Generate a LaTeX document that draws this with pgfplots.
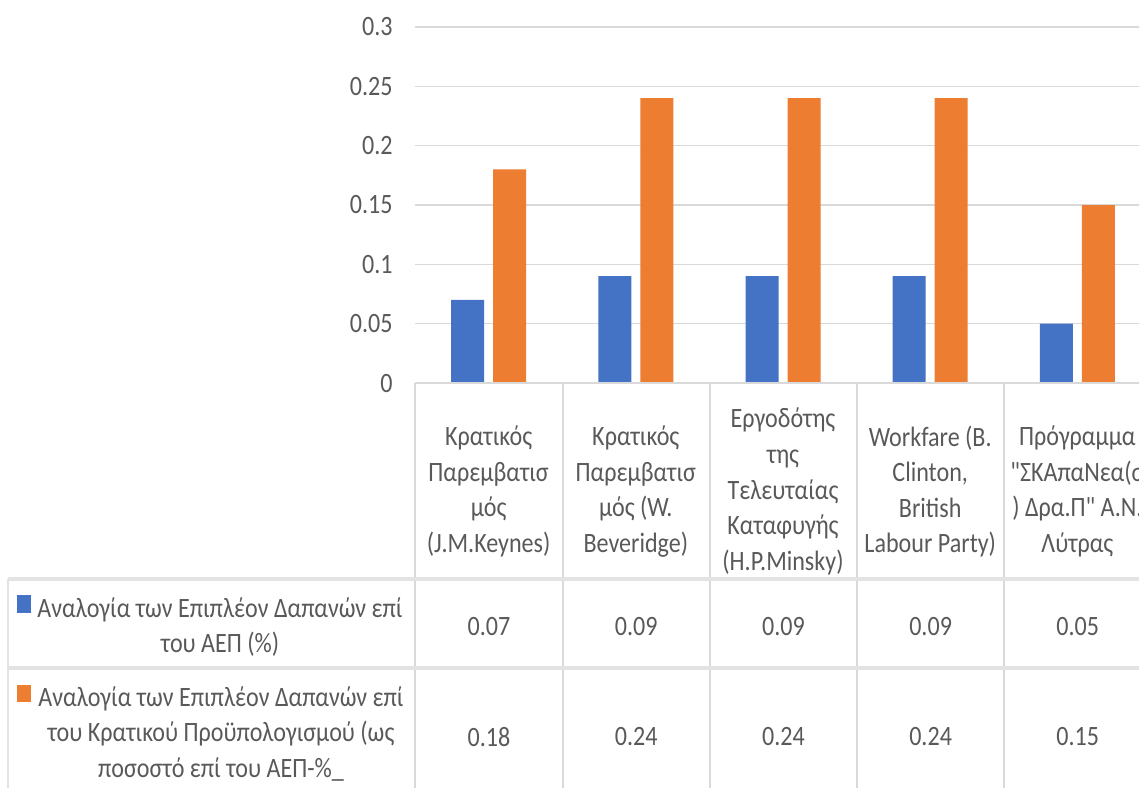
\documentclass[border=0pt]{standalone}
\usepackage{pgfplots}
\usepackage{pgfplotstable}
\pgfplotsset{compat=1.18}
\usepackage{fontspec}
\setmainfont{Carlito}[FakeStretch=0.86]
\newfontfamily\gf{Carlito}[FakeStretch=0.86]
\definecolor{bblue}{HTML}{4472C4}
\definecolor{borange}{HTML}{ED7D31}
\definecolor{gridgrey}{HTML}{D9D9D9}
\definecolor{tabgrey}{HTML}{E3E3E3}
\definecolor{txt}{HTML}{595959}
\newcommand\cf{\gf\fontsize{14}{17.8}\selectfont}

\pgfplotstableread{
x a b
0 0.07 0.18
1 0.09 0.24
2 0.09 0.24
3 0.09 0.24
4 0.05 0.15
}\data

\begin{document}
\begin{tikzpicture}
\useasboundingbox (0,0) rectangle (569.5pt,-394pt);
\clip (0,0) rectangle (569.5pt,-394pt);
\begin{axis}[
  at={(207.5pt,-191.5pt)}, anchor=south west,
  scale only axis, width=368pt, height=178pt,
  xmin=-0.5, xmax=4.5, ymin=0, ymax=0.3,
  ybar=4.5pt, bar width=16.5pt,
  ytick={0,0.05,0.1,0.15,0.2,0.25,0.3},
  yticklabels={0,0.05,0.1,0.15,0.2,0.25,0.3},
  xtick={0,1,2,3,4},
  xticklabels={
    {Κρατικός\\Παρεμβατισ\\μός\\(J.M.Keynes)},
    {Κρατικός\\Παρεμβατισ\\μός (W.\\Beveridge)},
    {Εργοδότης\\της\\Τελευταίας\\Καταφυγής\\(H.P.Minsky)},
    {Workfare (B.\\Clinton,\\British\\Labour Party)},
    {Πρόγραμμα\\"ΣΚΑπαΝεα(σ\\) Δρα.Π" Α.Ν.\\Λύτρας}},
  xticklabel style={anchor=center, yshift=-50pt, align=center, font=\cf, text=txt},
  yticklabel style={anchor=east, inner sep=0pt, xshift=-11pt, font=\cf, text=txt},
  tick style={draw=none},
  axis line style={draw=none},
  ymajorgrids, grid style={gridgrey, line width=0.75pt},
]
\addplot[fill=bblue, draw=none] table[x=x, y=a] {\data};
\addplot[fill=borange, draw=none] table[x=x, y=b] {\data};
\end{axis}
\begin{scope}[x=0.5pt, y=-0.5pt]
  \draw[gridgrey, line width=0.9pt] (415,383) -- (1139,383);
  \foreach \xx in {415,563,710,857,1004} \draw[gridgrey, line width=0.9pt] (\xx,383) -- (\xx,788);
  \draw[tabgrey, line width=1.6pt] (8,579) -- (1139,579);
  \draw[tabgrey, line width=1.6pt] (8,668) -- (1139,668);
  \draw[tabgrey, line width=1.2pt] (8,579) -- (8,788);
  \fill[bblue] (17,595) rectangle (31,613);
  \fill[borange] (17,685) rectangle (31,702);
  \node[align=center, font=\cf, text=txt, inner sep=0pt] at (220,627) {Αναλογία των Επιπλέον Δαπανών επί\\του ΑΕΠ (\%)};
  \node[align=center, font=\cf, text=txt, inner sep=0pt] at (221,734) {Αναλογία των Επιπλέον Δαπανών επί\\του Κρατικού Προϋπολογισμού (ως\\ποσοστό επί του ΑΕΠ-\%\_};
  \foreach \i in {0,...,4}{
    \pgfplotstablegetelem{\i}{a}\of\data
    \node[font=\cf, text=txt] at ({489+147.2*\i},627) {\pgfplotsretval};
    \pgfplotstablegetelem{\i}{b}\of\data
    \node[font=\cf, text=txt] at ({489+147.2*\i},737) {\pgfplotsretval};
  }
\end{scope}
\end{tikzpicture}
\end{document}
